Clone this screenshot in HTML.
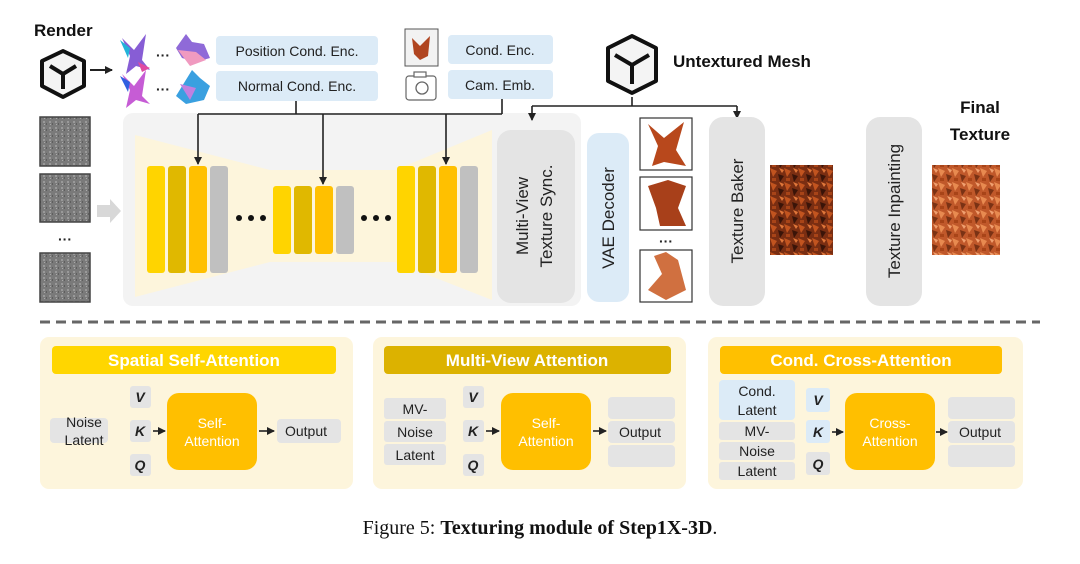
<!DOCTYPE html>
<html><head><meta charset="utf-8"><style>
html,body{margin:0;padding:0;background:#fff;}
svg{display:block;}
text{font-family:"Liberation Sans",sans-serif;}
</style></head><body>
<svg width="1080" height="564" viewBox="0 0 1080 564" xmlns="http://www.w3.org/2000/svg">
<defs>
<marker id="ah" markerWidth="8" markerHeight="8" refX="7" refY="4" orient="auto" markerUnits="userSpaceOnUse"><path d="M0,0 L8,4 L0,8 z" fill="#222"/></marker>
<pattern id="noise" width="6" height="6" patternUnits="userSpaceOnUse"><rect width="6" height="6" fill="#7a7a7a"/><rect x="1" y="1" width="2" height="2" fill="#999"/><rect x="4" y="3" width="1" height="2" fill="#5e5e5e"/><rect x="2" y="4" width="1" height="1" fill="#aaa"/></pattern>
<pattern id="tex" width="14" height="14" patternUnits="userSpaceOnUse"><rect width="14" height="14" fill="#7a2e12"/><path d="M0,0 L7,3 L3,9z" fill="#c2541f"/><path d="M8,6 L14,8 L10,14z" fill="#3a1408"/><path d="M9,0 L14,2 L12,5z" fill="#e0773a"/><rect x="2" y="10" width="4" height="3" fill="#a84418"/></pattern>
<pattern id="tex2" width="14" height="14" patternUnits="userSpaceOnUse"><rect width="14" height="14" fill="#c0582a"/><path d="M0,0 L7,3 L3,9z" fill="#e88a50"/><path d="M8,6 L14,8 L10,14z" fill="#7a3214"/><path d="M9,0 L14,2 L12,5z" fill="#f0a070"/><rect x="2" y="10" width="4" height="3" fill="#a84418"/></pattern>
</defs>

<!-- Render -->
<text x="34" y="36" font-size="17" font-weight="bold" fill="#111">Render</text>
<g stroke="#111" stroke-width="4" fill="#f4f4f4" stroke-linejoin="round">
<path d="M63,51 L84,61 L84,86 L63,97 L42,86 L42,61 z"/>
</g>
<path d="M50,66 L63,74 L76,66 M63,74 L63,89" stroke="#111" stroke-width="4" fill="none"/>
<line x1="90" y1="70" x2="112" y2="70" stroke="#222" stroke-width="2" marker-end="url(#ah)"/>
<g>
<path d="M122,38 L134,50 L146,34 L142,60 L150,70 L136,66 L126,74 L130,56 z" fill="#7a4bd0" opacity=".9"/>
<path d="M120,40 L130,48 L128,58z" fill="#22b3d9"/>
<path d="M138,62 L150,68 L142,72z" fill="#e04aa0"/>
<path d="M122,74 L134,86 L146,70 L142,96 L150,104 L136,100 L126,108 L130,90 z" fill="#c04ad0" opacity=".9"/>
<path d="M120,76 L130,82 L128,92z" fill="#3060e0"/>
<text x="156" y="60" font-size="14" font-weight="bold" fill="#222">···</text>
<text x="156" y="94" font-size="14" font-weight="bold" fill="#222">···</text>
<path d="M186,34 L192,42 L204,44 L210,58 L196,62 L182,58 L176,48 z" fill="#8f6ad8"/>
<path d="M178,50 L196,52 L206,60 L190,66z" fill="#f09ac0"/>
<path d="M192,70 L200,78 L210,86 L204,100 L186,104 L176,96 z" fill="#3aa0e0"/>
<path d="M180,84 L196,88 L190,100z" fill="#c080e0"/>
</g>
<rect x="216" y="36" width="162" height="29" rx="4" fill="#dcebf7"/>
<text x="297" y="56" font-size="14" text-anchor="middle" fill="#222">Position Cond. Enc.</text>
<rect x="216" y="71" width="162" height="30" rx="4" fill="#dcebf7"/>
<text x="297" y="91" font-size="14" text-anchor="middle" fill="#222">Normal Cond. Enc.</text>
<rect x="405" y="29" width="33" height="37" fill="#f2f2f2" stroke="#555" stroke-width="1"/>
<path d="M412,38 L420,46 L430,36 L428,56 L420,60 L414,54 z" fill="#b04520"/>
<rect x="406" y="76" width="30" height="24" rx="3" fill="#fff" stroke="#666" stroke-width="1.2"/>
<rect x="414" y="72" width="12" height="5" fill="#fff" stroke="#666" stroke-width="1.2"/>
<circle cx="422" cy="88" r="6" fill="none" stroke="#666" stroke-width="1.3"/>
<rect x="448" y="35" width="105" height="29" rx="4" fill="#dcebf7"/>
<text x="500" y="55" font-size="14" text-anchor="middle" fill="#222">Cond. Enc.</text>
<rect x="448" y="70" width="105" height="29" rx="4" fill="#dcebf7"/>
<text x="500" y="90" font-size="14" text-anchor="middle" fill="#222">Cam. Emb.</text>

<rect x="123" y="113" width="458" height="193" rx="10" fill="#f3f3f3"/>
<path d="M135,135 L270,170 L395,170 L492,130 L492,300 L395,262 L270,262 L135,297 z" fill="#fdf5dc"/>
<path d="M296,101 L296,114 M502,99 L502,114 M198,114 L502,114" stroke="#222" stroke-width="1.6" fill="none"/>
<line x1="198" y1="114" x2="198" y2="164" stroke="#222" stroke-width="1.6" marker-end="url(#ah)"/>
<line x1="323" y1="114" x2="323" y2="184" stroke="#222" stroke-width="1.6" marker-end="url(#ah)"/>
<line x1="446" y1="114" x2="446" y2="164" stroke="#222" stroke-width="1.6" marker-end="url(#ah)"/>
<g>
<rect x="147" y="166" width="18" height="107" rx="3" fill="#ffd400"/>
<rect x="168" y="166" width="18" height="107" rx="3" fill="#e0b800"/>
<rect x="189" y="166" width="18" height="107" rx="3" fill="#ffc000"/>
<rect x="210" y="166" width="18" height="107" rx="3" fill="#c0c0c0"/>
<rect x="273" y="186" width="18" height="68" rx="3" fill="#ffd400"/>
<rect x="294" y="186" width="18" height="68" rx="3" fill="#e0b800"/>
<rect x="315" y="186" width="18" height="68" rx="3" fill="#ffc000"/>
<rect x="336" y="186" width="18" height="68" rx="3" fill="#c0c0c0"/>
<rect x="397" y="166" width="18" height="107" rx="3" fill="#ffd400"/>
<rect x="418" y="166" width="18" height="107" rx="3" fill="#e0b800"/>
<rect x="439" y="166" width="18" height="107" rx="3" fill="#ffc000"/>
<rect x="460" y="166" width="18" height="107" rx="3" fill="#c0c0c0"/>
</g>
<g fill="#111"><circle cx="239" cy="218" r="3"/><circle cx="251" cy="218" r="3"/><circle cx="263" cy="218" r="3"/>
<circle cx="364" cy="218" r="3"/><circle cx="376" cy="218" r="3"/><circle cx="388" cy="218" r="3"/></g>

<rect x="40" y="117" width="50" height="49" fill="url(#noise)" stroke="#444" stroke-width="1.5"/>
<rect x="40" y="174" width="50" height="48" fill="url(#noise)" stroke="#444" stroke-width="1.5"/>
<text x="65" y="244" font-size="14" font-weight="bold" text-anchor="middle" fill="#222">···</text>
<rect x="40" y="253" width="50" height="49" fill="url(#noise)" stroke="#444" stroke-width="1.5"/>
<path d="M97,205 L110,205 L110,199 L121,211 L110,223 L110,217 L97,217 z" fill="#d8d8d8"/>

<path d="M632,36 L656,48 L656,81 L632,93 L608,81 L608,48 z" fill="#f4f4f4" stroke="#111" stroke-width="4" stroke-linejoin="round"/>
<path d="M615,55 L632,65 L649,55 M632,65 L632,84" stroke="#111" stroke-width="4" fill="none"/>
<text x="673" y="67" font-size="17" font-weight="bold" fill="#111">Untextured Mesh</text>
<path d="M632,97 L632,106 M532,106 L737,106" stroke="#222" stroke-width="1.6"/>
<line x1="532" y1="106" x2="532" y2="120" stroke="#222" stroke-width="1.6" marker-end="url(#ah)"/>
<line x1="737" y1="106" x2="737" y2="118" stroke="#222" stroke-width="1.6" marker-end="url(#ah)"/>

<rect x="497" y="130" width="78" height="173" rx="14" fill="#e4e4e4"/>
<text transform="translate(528,216) rotate(-90)" font-size="17" text-anchor="middle" fill="#222">Multi-View</text>
<text transform="translate(552,216) rotate(-90)" font-size="17" text-anchor="middle" fill="#222">Texture Sync.</text>
<rect x="587" y="133" width="42" height="169" rx="12" fill="#dcebf7"/>
<text transform="translate(614,218) rotate(-90)" font-size="17" text-anchor="middle" fill="#222">VAE Decoder</text>
<g stroke="#333" stroke-width="1.2">
<rect x="640" y="118" width="52" height="52" fill="#fff"/>
<rect x="640" y="177" width="52" height="53" fill="#fff"/>
<rect x="640" y="250" width="52" height="52" fill="#fff"/>
</g>
<path d="M648,124 L664,138 L684,122 L676,150 L686,166 L664,162 L652,166 L658,146 z" fill="#b8481c"/>
<path d="M648,186 L668,180 L686,186 L678,208 L686,226 L660,226 L656,208 z" fill="#a8401a"/>
<path d="M654,256 L666,252 L678,260 L686,290 L666,300 L648,290 L662,274 z" fill="#d07040"/>
<text x="666" y="246" font-size="14" font-weight="bold" text-anchor="middle" fill="#222">···</text>
<rect x="709" y="117" width="56" height="189" rx="14" fill="#e4e4e4"/>
<text transform="translate(743,211) rotate(-90)" font-size="17" text-anchor="middle" fill="#222">Texture Baker</text>
<rect x="770" y="165" width="63" height="90" fill="url(#tex)"/>
<rect x="866" y="117" width="56" height="189" rx="14" fill="#e4e4e4"/>
<text transform="translate(900,211) rotate(-90)" font-size="17" text-anchor="middle" fill="#222">Texture Inpainting</text>
<text x="980" y="113" font-size="17" font-weight="bold" text-anchor="middle" fill="#111">Final</text>
<text x="980" y="140" font-size="17" font-weight="bold" text-anchor="middle" fill="#111">Texture</text>
<rect x="932" y="165" width="68" height="90" fill="url(#tex2)"/>

<line x1="40" y1="322" x2="1040" y2="322" stroke="#666" stroke-width="3" stroke-dasharray="10,6"/>

<rect x="40" y="337" width="313" height="152" rx="9" fill="#fdf5dc"/>
<rect x="373" y="337" width="313" height="152" rx="9" fill="#fdf5dc"/>
<rect x="708" y="337" width="315" height="152" rx="9" fill="#fdf5dc"/>
<rect x="52" y="346" width="284" height="28" rx="4" fill="#ffd600"/>
<text x="194" y="366" font-size="17" font-weight="bold" text-anchor="middle" fill="#fff">Spatial Self-Attention</text>
<rect x="384" y="346" width="287" height="28" rx="4" fill="#dcb200"/>
<text x="527" y="366" font-size="17" font-weight="bold" text-anchor="middle" fill="#fff">Multi-View Attention</text>
<rect x="720" y="346" width="282" height="28" rx="4" fill="#ffc000"/>
<text x="861" y="366" font-size="17" font-weight="bold" text-anchor="middle" fill="#fff">Cond.  Cross-Attention</text>

<rect x="50" y="418" width="58" height="25" rx="4" fill="#e4e4e4"/>
<text x="84" y="427" font-size="14" text-anchor="middle" fill="#222">Noise</text>
<text x="84" y="445" font-size="14" text-anchor="middle" fill="#222">Latent</text>
<g font-size="14" font-weight="bold" font-style="italic" text-anchor="middle" fill="#222">
<rect x="130" y="386" width="21" height="22" rx="3" fill="#e4e4e4"/><text x="140" y="402">V</text>
<rect x="130" y="420" width="21" height="22" rx="3" fill="#e4e4e4"/><text x="140" y="436">K</text>
<rect x="130" y="454" width="21" height="22" rx="3" fill="#e4e4e4"/><text x="140" y="470">Q</text>
</g>
<line x1="153" y1="431" x2="165" y2="431" stroke="#222" stroke-width="1.6" marker-end="url(#ah)"/>
<rect x="167" y="393" width="90" height="77" rx="12" fill="#ffbf00"/>
<text x="212" y="428" font-size="14" text-anchor="middle" fill="#fff">Self-</text>
<text x="212" y="446" font-size="14" text-anchor="middle" fill="#fff">Attention</text>
<line x1="259" y1="431" x2="274" y2="431" stroke="#222" stroke-width="1.6" marker-end="url(#ah)"/>
<rect x="277" y="419" width="64" height="24" rx="4" fill="#e4e4e4"/>
<text x="306" y="436" font-size="14" text-anchor="middle" fill="#222">Output</text>

<rect x="384" y="398" width="62" height="21" rx="3" fill="#e4e4e4"/>
<rect x="384" y="421" width="62" height="21" rx="3" fill="#e4e4e4"/>
<rect x="384" y="444" width="62" height="21" rx="3" fill="#e4e4e4"/>
<text x="415" y="414" font-size="14" text-anchor="middle" fill="#222">MV-</text>
<text x="415" y="437" font-size="14" text-anchor="middle" fill="#222">Noise</text>
<text x="415" y="460" font-size="14" text-anchor="middle" fill="#222">Latent</text>
<g font-size="14" font-weight="bold" font-style="italic" text-anchor="middle" fill="#222">
<rect x="463" y="386" width="21" height="22" rx="3" fill="#e4e4e4"/><text x="473" y="402">V</text>
<rect x="463" y="420" width="21" height="22" rx="3" fill="#e4e4e4"/><text x="473" y="436">K</text>
<rect x="463" y="454" width="21" height="22" rx="3" fill="#e4e4e4"/><text x="473" y="470">Q</text>
</g>
<line x1="486" y1="431" x2="499" y2="431" stroke="#222" stroke-width="1.6" marker-end="url(#ah)"/>
<rect x="501" y="393" width="90" height="77" rx="12" fill="#ffbf00"/>
<text x="546" y="428" font-size="14" text-anchor="middle" fill="#fff">Self-</text>
<text x="546" y="446" font-size="14" text-anchor="middle" fill="#fff">Attention</text>
<line x1="593" y1="431" x2="606" y2="431" stroke="#222" stroke-width="1.6" marker-end="url(#ah)"/>
<rect x="608" y="397" width="67" height="22" rx="4" fill="#e4e4e4"/>
<rect x="608" y="421" width="67" height="22" rx="4" fill="#e4e4e4"/>
<rect x="608" y="445" width="67" height="22" rx="4" fill="#e4e4e4"/>
<text x="640" y="437" font-size="14" text-anchor="middle" fill="#222">Output</text>

<rect x="719" y="380" width="76" height="40" rx="4" fill="#dcebf7"/>
<text x="757" y="396" font-size="14" text-anchor="middle" fill="#222">Cond.</text>
<text x="757" y="415" font-size="14" text-anchor="middle" fill="#222">Latent</text>
<rect x="719" y="422" width="76" height="18" rx="3" fill="#e4e4e4"/>
<rect x="719" y="442" width="76" height="18" rx="3" fill="#e4e4e4"/>
<rect x="719" y="462" width="76" height="18" rx="3" fill="#e4e4e4"/>
<text x="757" y="436" font-size="14" text-anchor="middle" fill="#222">MV-</text>
<text x="757" y="456" font-size="14" text-anchor="middle" fill="#222">Noise</text>
<text x="757" y="476" font-size="14" text-anchor="middle" fill="#222">Latent</text>
<g font-size="14" font-weight="bold" font-style="italic" text-anchor="middle" fill="#222">
<rect x="806" y="388" width="24" height="24" rx="3" fill="#dcebf7"/><text x="818" y="405">V</text>
<rect x="806" y="420" width="24" height="23" rx="3" fill="#dcebf7"/><text x="818" y="437">K</text>
<rect x="806" y="452" width="24" height="23" rx="3" fill="#e4e4e4"/><text x="818" y="469">Q</text>
</g>
<line x1="832" y1="432" x2="843" y2="432" stroke="#222" stroke-width="1.6" marker-end="url(#ah)"/>
<rect x="845" y="393" width="90" height="77" rx="12" fill="#ffbf00"/>
<text x="890" y="428" font-size="14" text-anchor="middle" fill="#fff">Cross-</text>
<text x="890" y="446" font-size="14" text-anchor="middle" fill="#fff">Attention</text>
<line x1="936" y1="432" x2="947" y2="432" stroke="#222" stroke-width="1.6" marker-end="url(#ah)"/>
<rect x="948" y="397" width="67" height="22" rx="4" fill="#e4e4e4"/>
<rect x="948" y="421" width="67" height="22" rx="4" fill="#e4e4e4"/>
<rect x="948" y="445" width="67" height="22" rx="4" fill="#e4e4e4"/>
<text x="980" y="437" font-size="14" text-anchor="middle" fill="#222">Output</text>

<text x="540" y="534" font-size="20" text-anchor="middle" fill="#111" style="font-family:'Liberation Serif',serif">Figure 5:  <tspan font-weight="bold">Texturing module of Step1X-3D</tspan>.</text>
</svg>
</body></html>
